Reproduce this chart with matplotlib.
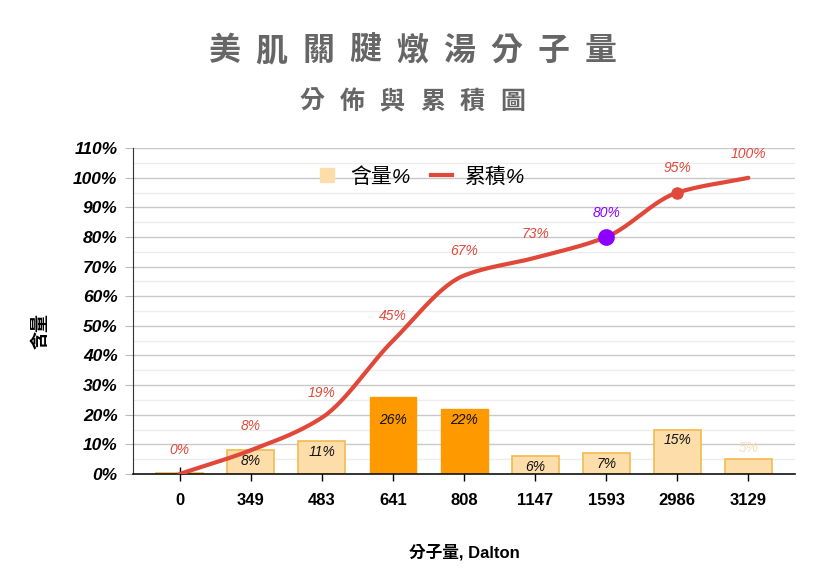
import numpy as np
import matplotlib
matplotlib.use("Agg")
import matplotlib.pyplot as plt
from matplotlib.lines import Line2D

plt.rcParams['font.family'] = ['Liberation Sans', 'Noto Sans CJK TC', 'DejaVu Sans']

# Data
categories = ["0", "349", "483", "641", "808", "1147", "1593", "2986", "3129"]
content = [0.3, 8, 11, 26, 22, 6, 7, 15, 5]
content_labels = ["", "8%", "11%", "26%", "22%", "6%", "7%", "15%", "5%"]
cumulative = [0, 8, 19, 45, 67, 73, 80, 95, 100]
cum_labels = ["0%", "8%", "19%", "45%", "67%", "73%", "80%", "95%", "100%"]
highlight = [False, False, False, True, True, False, False, False, False]
title_1 = "美肌關腱燉湯分子量"
title_2 = "分佈與累積圖"

light_fill = "#FDDEAB"
light_edge = "#F3B94E"
dark_fill = "#FF9900"
line_color = "#E0483A"
purple = "#8B00FF"


def monotone_curve(x, y, n=30):
    # Fritsch-Carlson monotone cubic, used only to draw the smooth line
    x = np.asarray(x, float)
    y = np.asarray(y, float)
    h = np.diff(x)
    d = np.diff(y) / h
    m = np.zeros_like(y)
    m[0], m[-1] = d[0], d[-1]
    for i in range(1, len(y) - 1):
        if d[i - 1] * d[i] <= 0:
            m[i] = 0
        else:
            m[i] = 2 / (1 / d[i - 1] + 1 / d[i])
    xs, ys = [], []
    for i in range(len(x) - 1):
        t = np.linspace(0, 1, n)
        h00 = 2 * t**3 - 3 * t**2 + 1
        h10 = t**3 - 2 * t**2 + t
        h01 = -2 * t**3 + 3 * t**2
        h11 = t**3 - t**2
        xs.append(x[i] + t * h[i])
        ys.append(h00 * y[i] + h10 * h[i] * m[i] + h01 * y[i + 1] + h11 * h[i] * m[i + 1])
    return np.concatenate(xs), np.concatenate(ys)


def spaced_title(text, y, pitch, size):
    # draw each character separately to get the wide letter spacing
    n = len(text)
    for i, ch in enumerate(text):
        fig.text(0.5 + (i - (n - 1) / 2) * pitch, y, ch, ha="center", va="baseline",
                 fontsize=size, fontweight="bold", color="#666666")


fig = plt.figure(figsize=(8.25, 5.88), dpi=100)
ax = fig.add_axes([0.161, 0.194, 0.803, 0.554])

x = np.arange(len(categories))

# bars
for xi, v, hl in zip(x, content, highlight):
    if hl:
        ax.bar(xi, v, width=0.66, color=dark_fill, edgecolor=dark_fill, linewidth=1, zorder=2)
    else:
        ax.bar(xi, v, width=0.66, color=light_fill, edgecolor=light_edge, linewidth=1.2, zorder=2)

for xi, v, lab in zip(x, content, content_labels):
    if not lab:
        continue
    if v < 6:
        ax.text(xi, v + 1.3, lab, ha="center", va="bottom", fontsize=10, style="italic",
                color="#F8E0B8", zorder=5)
    else:
        ax.text(xi, min(v - 3.7, 18.3), lab, ha="center", va="center", fontsize=10,
                style="italic", color="#111111", zorder=5)

# cumulative line
cx, cy = monotone_curve(x, cumulative)
ax.plot(cx, cy, color=line_color, linewidth=3, zorder=4, solid_capstyle="round")
ax.plot(x[6], cumulative[6], "o", color=purple, markersize=11, zorder=6)
ax.plot(x[7], cumulative[7], "o", color=line_color, markersize=8, zorder=6)

for xi, v, lab in zip(x, cumulative, cum_labels):
    c = purple if lab == "80%" else line_color
    ax.text(xi, v + 5.8, lab, ha="center", va="bottom", fontsize=10, style="italic",
            color=c, zorder=5)

ax.set_xlim(-0.66, 8.66)
ax.set_ylim(0, 110)
ax.set_yticks(np.arange(0, 111, 10))
ax.set_yticklabels([f"{v}%" for v in range(0, 111, 10)], fontsize=12.5, fontweight="bold",
                   style="italic")
ax.set_yticks(np.arange(5, 110, 10), minor=True)
ax.set_xticks(x)
ax.set_xticklabels(categories, fontsize=12, fontweight="bold")
ax.tick_params(axis="x", direction="inout", length=10, width=1, pad=9)
ax.tick_params(axis="y", which="major", length=6, color="#BBBBBB", pad=5)
ax.tick_params(axis="y", which="minor", length=0)

ax.grid(axis="y", which="major", color="#C8C8C8", linewidth=1, zorder=0)
ax.grid(axis="y", which="minor", color="#EDEDED", linewidth=1, zorder=0)
ax.set_axisbelow(True)
for s in ["top", "right"]:
    ax.spines[s].set_visible(False)
ax.spines["left"].set_color("#333333")
ax.spines["bottom"].set_color("#111111")
ax.spines["bottom"].set_linewidth(1.2)

ax.set_xlabel("分子量, Dalton", fontsize=12, fontweight="bold")
ax.xaxis.set_label_coords(0.5, -0.215)
ax.set_ylabel("含量", fontsize=13, fontweight="bold")
ax.yaxis.set_label_coords(-0.125, 0.44)

handles = [
    Line2D([0], [0], marker="s", linestyle="none", markersize=10, color=light_fill),
    Line2D([0], [0], color=line_color, linewidth=3),
]
leg = ax.legend(handles, ["含量%", "累積%"], loc="upper center", bbox_to_anchor=(0.435, 1.0),
                ncol=2, frameon=False, fontsize=15, handlelength=1.0, columnspacing=1.0,
                handletextpad=0.6)
for t in leg.get_texts():
    t.set_style("italic")

spaced_title(title_1, 0.898, 47 / 825, 23)
spaced_title(title_2, 0.815, 40 / 825, 18)

fig.savefig("out.png", dpi=100)
